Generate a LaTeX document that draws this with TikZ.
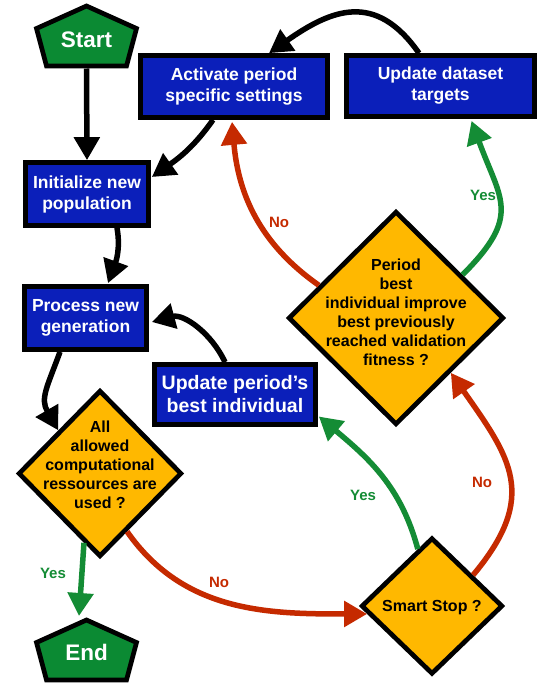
\documentclass[tikz,border=0pt]{standalone}
\usepackage{fontspec}
\setmainfont{Liberation Sans}
\usetikzlibrary{arrows.meta,shapes.geometric,calc}
\definecolor{boxblue}{RGB}{11,31,186}
\definecolor{pentgreen}{RGB}{11,138,51}
\definecolor{diaorange}{RGB}{255,184,0}
\definecolor{arrred}{RGB}{197,42,0}
\definecolor{arrgreen}{RGB}{20,140,53}
\begin{document}
\begin{tikzpicture}[x=1pt,y=-1pt,
  bluebox/.style={draw=black,line width=4.7pt,fill=boxblue,text=white,font=\fontsize{17.5}{21}\selectfont\bfseries,align=center,inner sep=0pt},
  decision/.style={diamond,draw=black,line width=4.7pt,fill=diaorange,inner sep=0pt},
  dtext/.style={font=\fontsize{16}{19}\selectfont\bfseries,align=center,text=black},
  pent/.style={draw=black,line width=4.7pt,fill=pentgreen,line join=miter},
  ptext/.style={font=\fontsize{22.5}{26}\selectfont\bfseries,text=white},
  flow/.style={line width=5.5pt,-{Triangle[length=23pt,width=25pt]}},
  blk/.style={flow,draw=black},
  redarr/.style={flow,draw=arrred},
  grnarr/.style={flow,draw=arrgreen},
  lab/.style={font=\fontsize{15}{17}\selectfont\bfseries},
]
\useasboundingbox[fill=white] (0,0) rectangle (538,683);

% terminals
\draw[pent] (86.5,6) -- (136.5,28.5) -- (126.5,66) -- (46.5,66) -- (36.5,28.5) -- cycle;
\node[ptext] (start) at (86.5,40) {Start};
\coordinate (startb) at (86.5,68.5);
\draw[pent] (86.5,620) -- (136.5,642.5) -- (126.5,680) -- (46.5,680) -- (36.5,642.5) -- cycle;
\node[ptext] (endn) at (86.5,652) {End};
\coordinate (endt) at (79,616);

% process boxes
\node[bluebox,minimum width=187pt,minimum height=62pt] (act) at (234,86.5) {Activate period\\specific settings};
\node[bluebox,minimum width=188pt,minimum height=61pt] (upd) at (440.5,86) {Update dataset\\targets};
\node[bluebox,minimum width=123pt,minimum height=63pt] (init) at (87,194) {Initialize new\\population};
\node[bluebox,minimum width=122pt,minimum height=63pt] (proc) at (85.5,318) {Process new\\generation};
\node[bluebox,minimum width=161pt,minimum height=60pt,font=\fontsize{19.5}{23}\selectfont\bfseries] (uper) at (235,394.5) {Update period’s\\best individual};

% decisions
\node[decision,minimum width=163.6pt,minimum height=166.6pt] (d1) at (100,473.5) {};
\node[dtext] (d1t) at (100,465) {All\\allowed\\computational\\ressources are\\used ?};
\node[decision,minimum width=215.6pt,minimum height=213.6pt] (per) at (396,318) {};
\node[dtext] (pert) at (396,312) {Period\\best\\individual improve\\best previously\\reached validation\\fitness ?};
\node[decision,minimum width=141.6pt,minimum height=136.6pt] (smart) at (432,606) {};
\node[dtext] (smartt) at (432,607.5) {Smart Stop ?};

% connectors
\draw[blk] (startb) -- (init.north);
\draw[blk] ($(act.south)+(-21,0)$) to[out=-125,in=35] ($(init.east)+(1,-17)$);
\draw[blk] ($(upd.north)+(-21.5,0)$) to[out=125,in=35,looseness=1.3] ($(act.north)+(35,0)$);
\draw[blk] ($(init.south)+(30,0)$) to[out=-80,in=70] ($(proc.north)+(22.5,-1)$);
\draw[blk] ($(uper.north)+(-10,0)$) to[out=115,in=15] ($(proc.east)+(3,4)$);
\draw[blk] ($(proc.south)+(-25.5,0)$) to[out=-110,in=120,looseness=1.2] (d1.134);
\draw[grnarr] (d1.-103) -- (endt);
\draw[redarr] (d1.-65) to[out=-55,in=180] (smart.-173);
\draw[grnarr] (smart.104) to[out=105,in=-40] ($(uper.east)+(1,22)$);
\draw[redarr] (smart.37) to[out=50,in=-55,looseness=1.3] (per.-45);
\draw[grnarr] (per.33) to[out=45,in=-70,looseness=1.4] ($(upd.south)+(31,2)$);
\draw[redarr] (per.157) to[out=145,in=-85] ($(act.south)+(-2,2)$);

% labels
\node[lab,text=arrgreen] (l1) at (53,573) {Yes};
\node[lab,text=arrred] (l2) at (219,582) {No};
\node[lab,text=arrgreen] (l3) at (363,495) {Yes};
\node[lab,text=arrred] (l4) at (482,482) {No};
\node[lab,text=arrgreen] (l5) at (483,195) {Yes};
\node[lab,text=arrred] (l6) at (279,222) {No};
\end{tikzpicture}
\end{document}
